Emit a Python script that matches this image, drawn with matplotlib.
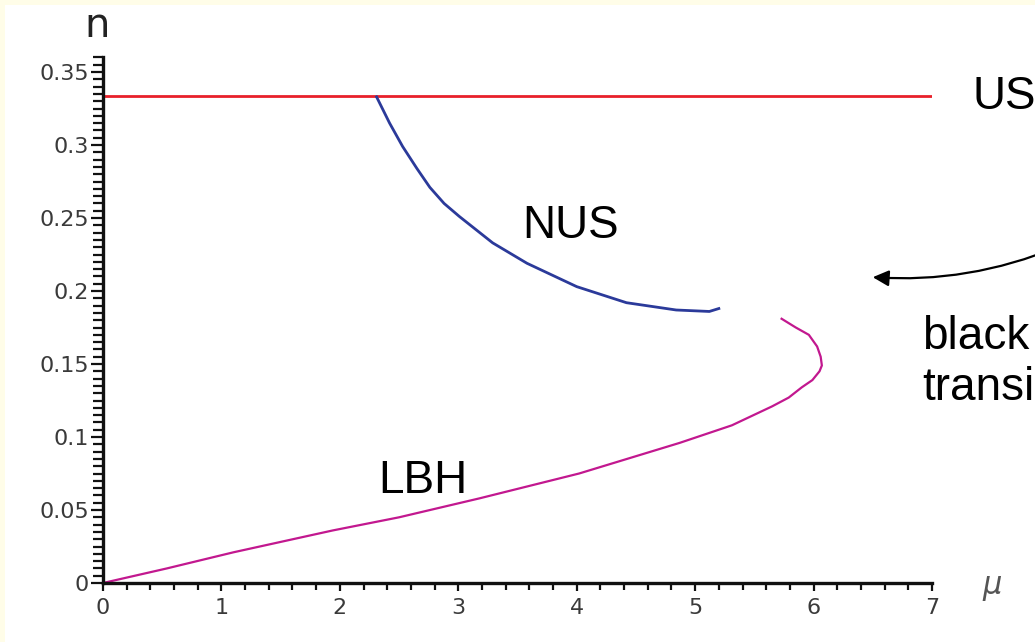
import numpy as np
import matplotlib
matplotlib.use("Agg")
import matplotlib.pyplot as plt
from matplotlib.patches import Rectangle, FancyArrowPatch

# values
us_level = 1.0 / 3.0
us_mu = [0.0, 7.0]

nus_mu = [2.31, 2.42, 2.53, 2.65, 2.76, 2.88, 3.01, 3.29, 3.58, 4.00, 4.42,
          4.84, 5.12, 5.20]
nus_n = [0.333, 0.315, 0.299, 0.284, 0.271, 0.260, 0.251, 0.233, 0.219, 0.203,
         0.192, 0.187, 0.186, 0.188]

lbh_mu = [0.0, 0.54, 1.10, 1.94, 2.50, 3.18, 4.02, 4.87, 5.31, 5.65, 5.79,
          5.90, 5.99, 6.05, 6.07, 6.06, 6.03, 5.96, 5.85, 5.73]
lbh_n = [0.0, 0.010, 0.021, 0.036, 0.045, 0.058, 0.075, 0.096, 0.108, 0.121,
         0.127, 0.134, 0.139, 0.145, 0.149, 0.155, 0.162, 0.170, 0.175, 0.181]

x_ticks = [0, 1, 2, 3, 4, 5, 6, 7]
x_labels = ["0", "1", "2", "3", "4", "5", "6", "7"]
y_ticks = [0, 0.05, 0.1, 0.15, 0.2, 0.25, 0.3, 0.35]
y_labels = ["0", "0.05", "0.1", "0.15", "0.2", "0.25", "0.3", "0.35"]

W, H = 1035, 642
fig = plt.figure(figsize=(W / 100, H / 100), dpi=100, facecolor="#FFFDE8")
fig.patches.append(Rectangle((5 / W, 0), 1, 1 - 5 / H, transform=fig.transFigure,
                             facecolor="white", edgecolor="none", zorder=-10))

ax = fig.add_axes([103 / W, 1 - 583 / H, (932 - 103) / W, (583 - 57) / H])
ax.set_facecolor("none")

ax.plot(us_mu, [us_level, us_level], color="#E8202A", lw=2.0, solid_capstyle="butt")
ax.plot(nus_mu, nus_n, color="#2B3A9A", lw=2.0)
ax.plot(lbh_mu, lbh_n, color="#C2188F", lw=1.6)

ax.set_xlim(0, 7)
ax.set_ylim(0, 0.3603)
for s in ["top", "right"]:
    ax.spines[s].set_visible(False)
for s in ["left", "bottom"]:
    ax.spines[s].set_linewidth(2.4)
    ax.spines[s].set_color("#111111")

ax.set_xticks(x_ticks)
ax.set_xticklabels(x_labels)
ax.set_xticks(np.arange(0, 7.01, 0.2), minor=True)
ax.set_yticks(y_ticks)
ax.set_yticklabels(y_labels)
ax.set_yticks(np.arange(0, 0.3605, 0.005), minor=True)

ax.tick_params(axis="y", which="major", length=9, width=1.6, color="#111111",
               pad=1, labelsize=16, labelcolor="#3a3a3a")
ax.tick_params(axis="y", which="minor", length=7.5, width=1.6, color="#111111")
ax.tick_params(axis="x", which="major", length=5.5, width=1.6, color="#111111",
               pad=5, labelsize=16, labelcolor="#3a3a3a")
ax.tick_params(axis="x", which="minor", length=5, width=1.6, color="#111111")

fig.text(97 / W, 1 - 37 / H, "n", fontsize=29, ha="center", va="baseline",
         color="#222222")
fig.text(992 / W, 1 - 594 / H, r"$\mu$", fontsize=22, ha="center", va="baseline",
         color="#555555")

# slide labels (the right-hand ones are cut off by the picture edge)
lab = dict(family="Liberation Sans", fontsize=33, color="black")
fig.text(522 / W, 1 - 238 / H, "NUS", ha="left", va="baseline", **lab)
fig.text(378 / W, 1 - 493 / H, "LBH", ha="left", va="baseline", **lab)
fig.text(972 / W, 1 - 109 / H, "US", ha="left", va="baseline", **lab)
fig.text(922 / W, 1 - 349 / H, "black", ha="left", va="baseline", **lab)
fig.text(922 / W, 1 - 400 / H, "transi", ha="left", va="baseline", **lab)

arr = FancyArrowPatch((1060 / W, 1 - 246 / H), (870 / W, 1 - 277 / H),
                      transform=fig.transFigure, connectionstyle="arc3,rad=-0.12",
                      arrowstyle="-|>", mutation_scale=24, lw=1.6, color="black")
fig.patches.append(arr)

fig.savefig("out.png", dpi=100, facecolor=fig.get_facecolor())
